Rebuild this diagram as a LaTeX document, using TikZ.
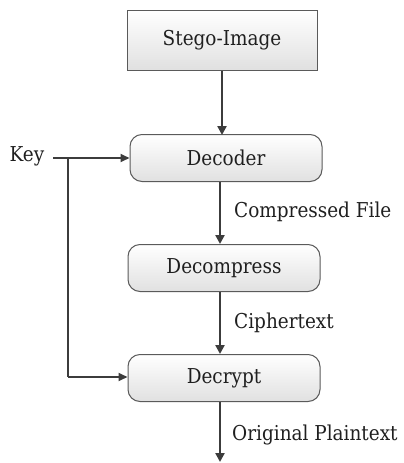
\documentclass[tikz,border=0pt]{standalone}
\usepackage{fontspec}
\setmainfont{DejaVu Serif Condensed}
\usetikzlibrary{arrows.meta}
\definecolor{lineC}{HTML}{3C3C3C}
\definecolor{boxB}{HTML}{5A5A5A}
\tikzset{
  boxbase/.style={draw=boxB, line width=1pt, top color=white, bottom color=black!12, align=center, inner sep=0pt, font=\fontsize{20.5}{24}\selectfont, text=black!88},
  sqbox/.style={boxbase, rectangle, minimum width=190pt, minimum height=60pt},
  rbox/.style={boxbase, rectangle, rounded corners=12pt, minimum width=192pt, minimum height=47pt},
  flow/.style={draw=lineC, line width=2.6pt, -{Triangle[length=9pt,width=9pt]}},
  keyline/.style={draw=lineC, line width=1.8pt},
  keyarrow/.style={keyline, -{Triangle[length=9pt,width=8pt]}},
  lbl/.style={font=\fontsize{20.5}{24}\selectfont, anchor=west, inner sep=0pt, text=black!88}
}
\begin{document}
\begin{tikzpicture}[x=1pt,y=-1pt]
\useasboundingbox (0,0) rectangle (404,463);
\node[sqbox] (stego) at (222,40) {Stego-Image};
\node[rbox] (decoder) at (226,158) {Decoder};
\node[rbox] (decompress) at (224,268) {Decompress};
\node[rbox] (decrypt) at (224,378) {Decrypt};
\node[lbl, anchor=center] (key) at (27,156) {Key};
\coordinate (split) at (68,158);
\coordinate (bend) at (68,377);
\coordinate (out) at (220,462);
\draw[flow] (stego.south -| 222,0) -- (222,135);
\draw[flow] (220,182) -- (220,244);
\draw[flow] (220,292) -- (220,354);
\draw[flow] (220,402) -- (out);
\draw[keyarrow] (53,158) -- (decoder.west);
\draw[keyline] (split) -- (bend);
\draw[keyarrow] (bend) -- (decrypt.west |- bend);
\node[lbl] (l1) at (234,212) {Compressed File};
\node[lbl] (l2) at (234,323) {Ciphertext};
\node[lbl] (l3) at (232,435) {Original Plaintext};
\end{tikzpicture}
\end{document}
